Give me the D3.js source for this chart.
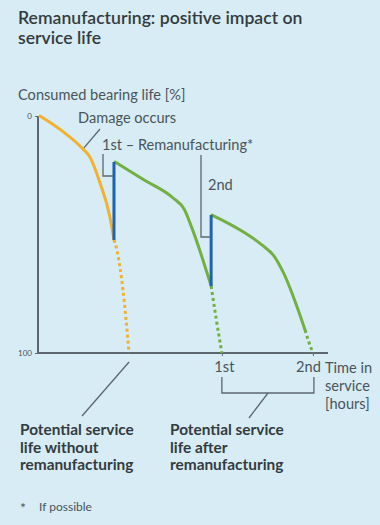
<!DOCTYPE html>
<html><head><meta charset="utf-8">
<script src="https://cdn.jsdelivr.net/npm/d3@7"></script>
<style>
html,body{margin:0;padding:0;background:#d7ecf4;}
svg{display:block;}
text{font-family:Lato,"Open Sans",sans-serif;}
</style></head>
<body>
<script>
// ---- data (x: share of time axis, y: consumed bearing life %) ----
const yTicks = [0, 100];
const xTickLabels = ["1st", "2nd"];
const xTickValues = [63.4, 94.8];
const orangeSolid = [[0.7,0],[8.3,6.3],[15.5,13.9],[17.9,17.3],[21.4,28.3],[24.8,42.6],[26.2,52.3]];
const orangeDotted = [[26.2,52.3],[27.2,56.5],[29.3,73.4],[31.4,100]];
const green1Solid = [[26.6,19.4],[36.6,27],[46.6,34.6],[50.5,39.5],[53,47],[59.7,71.7]];
const green1Dotted = [[59.7,71.7],[61.4,85.2],[63.4,100]];
const green2Solid = [[60,41.8],[69.7,48.1],[77.2,54.4],[81.4,59.1],[84.5,65.8],[92.1,90.3]];
const green2Dotted = [[92.1,90.3],[93.4,95.4],[94.8,100]];
const remanufacturing = [{x:26.2, from:19.4, to:52.3}, {x:59.7, from:41.8, to:71.7}];
const damagePoint = [15.5, 13.9];

const W = 380, H = 525;
const svg = d3.select("body").append("svg").attr("width", W).attr("height", H);
svg.append("rect").attr("width", W).attr("height", H).attr("fill", "#d7ecf4");

const x = d3.scaleLinear().domain([0,100]).range([38,328]);
const y = d3.scaleLinear().domain([0,100]).range([116,353]);

const C = {orange:"#f2b230", green:"#72b043", blue:"#1f62b3", axis:"#5d6770", text:"#4a545c", dark:"#333b40"};

// title
svg.append("text").attr("x",18).attr("y",24).attr("font-size",17.6).attr("font-weight",600).attr("fill",C.dark).text("Remanufacturing: positive impact on");
svg.append("text").attr("x",18).attr("y",44).attr("font-size",17.6).attr("font-weight",600).attr("fill",C.dark).text("service life");
svg.append("text").attr("x",18).attr("y",100).attr("font-size",14.6).attr("fill",C.text).text("Consumed bearing life [%]");

// axes
const yAxis = d3.axisLeft(y).tickValues(yTicks).tickSize(3).tickFormat(d3.format("d"));
const gy = svg.append("g").attr("transform",`translate(${x(0)},0)`).call(yAxis);
gy.select(".domain").attr("stroke",C.axis).attr("stroke-width",2).attr("d",`M0,${y(0)}V${y(100)}`);
gy.selectAll(".tick line").attr("stroke",C.axis);
gy.selectAll(".tick text").attr("font-size",8).attr("fill",C.text).attr("font-family","Lato,sans-serif");

const xAxis = d3.axisBottom(x).tickValues(xTickValues).tickSize(3).tickFormat((d,i)=>xTickLabels[i]);
const gx = svg.append("g").attr("transform",`translate(0,${y(100)})`).call(xAxis);
gx.select(".domain").attr("stroke",C.axis).attr("stroke-width",2).attr("d",`M${x(0)},0H${x(100)}`);
gx.selectAll(".tick line").attr("stroke",C.axis);
gx.selectAll(".tick text").attr("font-size",14.6).attr("fill",C.text).attr("dy","0.9em")
  .attr("font-family","Lato,sans-serif").attr("dx",(d,i)=>i===1?-5:2);

const tl = [["Time in",373],["service",391],["[hours]",409]];
tl.forEach(t=>svg.append("text").attr("x",325).attr("y",t[1]).attr("font-size",14.6).attr("fill",C.text).text(t[0]));

// curves
const line = d3.line().x(d=>x(d[0])).y(d=>y(d[1])).curve(d3.curveMonotoneX);
function draw(data, color, dotted){
  svg.append("path").attr("d", line(data)).attr("fill","none").attr("stroke",color)
    .attr("stroke-width",3).attr("stroke-linecap", dotted?"butt":"round")
    .attr("stroke-dasharray", dotted?"3,3":null);
}
draw(orangeDotted, C.orange, true);
draw(green1Dotted, C.green, true);
draw(green2Dotted, C.green, true);
draw(orangeSolid, C.orange, false);
draw(green1Solid, C.green, false);
draw(green2Solid, C.green, false);
remanufacturing.forEach(r=>{
  svg.append("line").attr("x1",x(r.x)).attr("x2",x(r.x)).attr("y1",y(r.from)).attr("y2",y(r.to))
    .attr("stroke",C.blue).attr("stroke-width",3);
});

// annotations
const ann = svg.append("g").attr("stroke",C.axis).attr("stroke-width",1.3).attr("fill","none");
ann.append("line").attr("x1",100).attr("y1",129).attr("x2",x(damagePoint[0])+1).attr("y2",y(damagePoint[1])-1);
svg.append("text").attr("x",78).attr("y",123).attr("font-size",14.6).attr("fill",C.text).text("Damage occurs");

ann.append("path").attr("d",`M103,154V176H${x(remanufacturing[0].x)-1}`);
svg.append("text").attr("x",102).attr("y",150).attr("font-size",14.6).attr("fill",C.text).text("1st – Remanufacturing*");
ann.append("path").attr("d",`M201,155V237H${x(remanufacturing[1].x)-1}`);
svg.append("text").attr("x",208).attr("y",190).attr("font-size",14.6).attr("fill",C.text).text("2nd");

// bottom annotations
ann.append("line").attr("x1",x(31.4)).attr("y1",362).attr("x2",82).attr("y2",416);
ann.append("path").attr("d",`M${x(63.4)},377V393H${x(94.8)+1}V377`);
ann.append("line").attr("x1",268).attr("y1",393).attr("x2",249).attr("y2",418);

const leftLbl = ["Potential service","life without","remanufacturing"];
const rightLbl = ["Potential service","life after","remanufacturing"];
[[leftLbl,20],[rightLbl,170]].forEach(([ls,xx])=>{
  ls.forEach((t,i)=>svg.append("text").attr("x",xx).attr("y",435+i*17.5).attr("font-size",15.4).attr("font-weight",700).attr("fill",C.dark).text(t));
});
svg.append("text").attr("x",20).attr("y",513).attr("font-size",14).attr("fill",C.text).text("*");
svg.append("text").attr("x",39).attr("y",511).attr("font-size",12).attr("fill",C.text).text("If possible");
</script>
</body></html>
